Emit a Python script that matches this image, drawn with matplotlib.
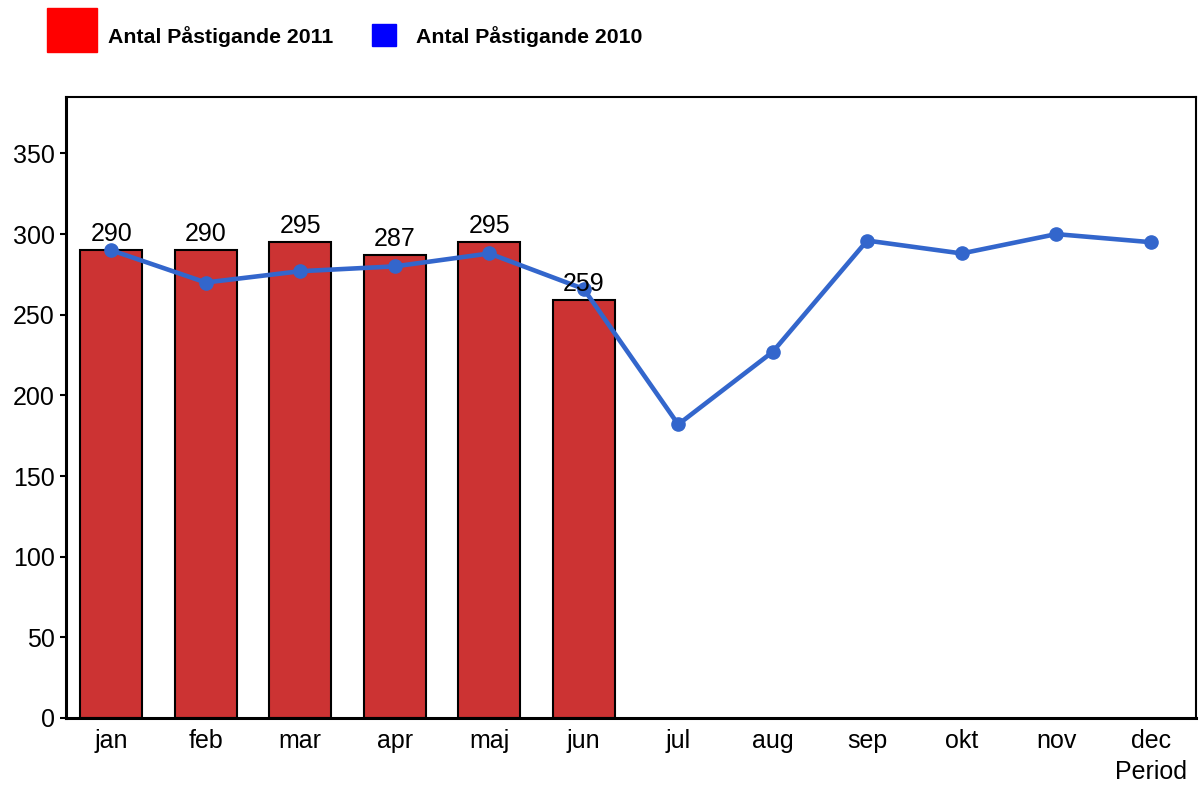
import matplotlib.pyplot as plt
from matplotlib.patches import Rectangle

plt.rcParams['font.family'] = ['Liberation Sans', 'DejaVu Sans']

months = ['jan', 'feb', 'mar', 'apr', 'maj', 'jun',
          'jul', 'aug', 'sep', 'okt', 'nov', 'dec']
pax_2011 = [290, 290, 295, 287, 295, 259]
pax_2010 = [290, 270, 277, 280, 288, 266, 182, 227, 296, 288, 300, 295]

fig = plt.figure(figsize=(11.99, 7.85), dpi=100)
ax = fig.add_axes([0.055, 0.0854, 0.9425, 0.791])

x11 = range(len(pax_2011))
ax.bar(x11, pax_2011, width=0.66, color='#CC3333',
       edgecolor='black', linewidth=1.5, zorder=2)
for xi, v in zip(x11, pax_2011):
    ax.annotate(str(v), (xi, v), xytext=(0, 3), textcoords='offset points',
                ha='center', va='bottom', fontsize=18, zorder=4)

ax.plot(range(len(months)), pax_2010, color='#3366CC', linewidth=3.3,
        marker='o', markersize=9.5, zorder=3)

ax.set_xlim(-0.48, 11.48)
ax.set_ylim(0, 385)
ax.set_yticks(range(0, 351, 50))
ax.set_xticks(range(len(months)))
ax.set_xticklabels(months)
ax.tick_params(axis='y', labelsize=18, length=4, width=1.5,
               direction='out', pad=4)
ax.tick_params(axis='x', labelsize=18, length=0, pad=8)
ax.set_xlabel('Period', fontsize=18, labelpad=0)
ax.xaxis.set_label_coords((11 + 0.48) / 11.96, -0.068)

for side in ['left', 'bottom']:
    ax.spines[side].set_linewidth(2.2)
for side in ['top', 'right']:
    ax.spines[side].set_linewidth(1.5)

# legend drawn by hand: two swatches of different size
fig.add_artist(Rectangle((47 / 1199, 1 - 52 / 785), 50 / 1199, 44 / 785,
                         transform=fig.transFigure, color='#FF0000'))
fig.text(108 / 1199, 1 - 37 / 785, 'Antal Påstigande 2011', fontsize=15.3,
         fontweight='bold', va='center')
fig.add_artist(Rectangle((372 / 1199, 1 - 46 / 785), 24 / 1199, 22 / 785,
                         transform=fig.transFigure, color='#0000FF'))
fig.text(416 / 1199, 1 - 37 / 785, 'Antal Påstigande 2010', fontsize=15.3,
         fontweight='bold', va='center')

plt.savefig('out.png', dpi=100)
